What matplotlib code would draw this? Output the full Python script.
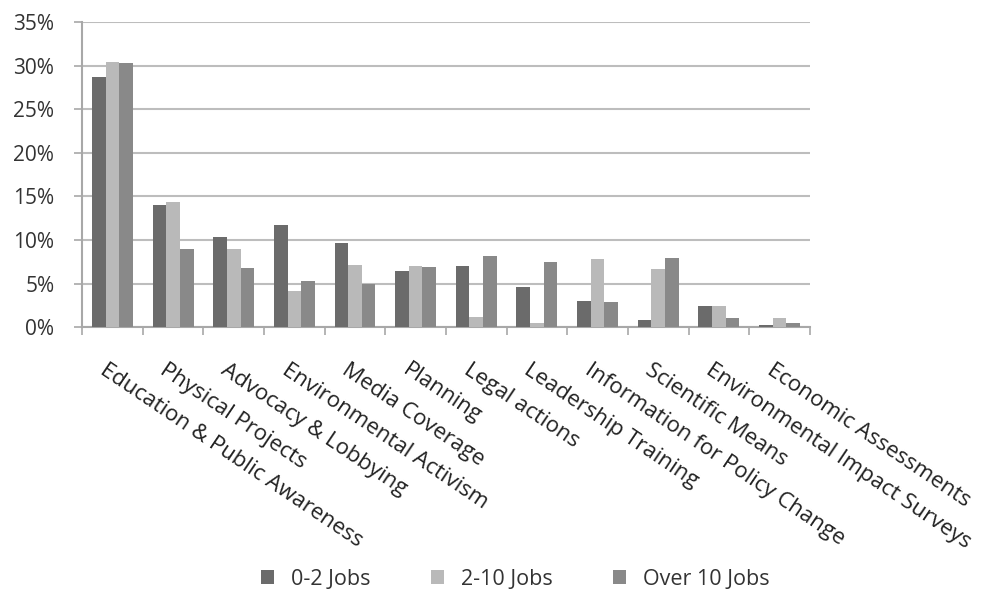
import numpy as np
import matplotlib.pyplot as plt
from matplotlib.ticker import FuncFormatter

plt.rcParams['font.family'] = ['Open Sans', 'DejaVu Sans']

categories = ['Education & Public Awareness', 'Physical Projects', 'Advocacy & Lobbying',
              'Environmental Activism', 'Media Coverage', 'Planning', 'Legal actions',
              'Leadership Training', 'Information for Policy Change', 'Scientific Means',
              'Environmental Impact Surveys', 'Economic Assessments']
jobs_0_2 = [28.7, 14.05, 10.4, 11.7, 9.65, 6.45, 7.0, 4.55, 3.05, 0.85, 2.4, 0.25]
jobs_2_10 = [30.45, 14.35, 8.95, 4.2, 7.15, 7.0, 1.15, 0.45, 7.85, 6.7, 2.4, 1.0]
jobs_over_10 = [30.3, 8.95, 6.75, 5.25, 4.9, 6.9, 8.2, 7.45, 2.9, 7.9, 1.05, 0.45]
series_names = ['0-2 Jobs', '2-10 Jobs', 'Over 10 Jobs']
colors = ['#6b6b6b', '#b9b9b9', '#898989']

fig = plt.figure(figsize=(10.01, 5.97), dpi=100)
ax = fig.add_axes([0.082, 0.452, 0.727, 0.511])

x = np.arange(len(categories))
w = 0.225
for i, (vals, name, c) in enumerate(zip([jobs_0_2, jobs_2_10, jobs_over_10], series_names, colors)):
    ax.bar(x + (i - 1) * w, vals, width=w, color=c, label=name, zorder=3)

ax.set_xlim(-0.5, len(categories) - 0.5)
ax.set_ylim(0, 35)
ax.set_yticks(np.arange(0, 36, 5))
ax.yaxis.set_major_formatter(FuncFormatter(lambda v, p: f'{v:.0f}%'))
ax.yaxis.grid(True, color='#bdbdbd', linewidth=1.5, zorder=0)

for s in ['top', 'right']:
    ax.spines[s].set_visible(False)
for s in ['left', 'bottom']:
    ax.spines[s].set_color('#a8a8a8')
    ax.spines[s].set_linewidth(1.5)

# category ticks sit between the groups
ax.set_xticks(np.arange(-0.5, len(categories), 1))
ax.set_xticklabels([])
ax.tick_params(axis='x', length=6, width=1.2, color='#a8a8a8', direction='out')
ax.tick_params(axis='y', length=6, width=1.2, color='#a8a8a8', labelsize=15,
               labelcolor='#333333', pad=14)

for xi, lab in zip(x, categories):
    ax.text(xi - 0.08, -3.7, lab, rotation=-34, rotation_mode='anchor', ha='left', va='top',
            fontsize=16, color='#222222')

fig.legend(loc='lower center', bbox_to_anchor=(0.515, -0.02), ncol=3, frameon=False,
           fontsize=15.5, handlelength=0.6, handleheight=0.6, columnspacing=2.8,
           handletextpad=0.8, labelcolor='#333333')

fig.savefig('out.png', dpi=100)
